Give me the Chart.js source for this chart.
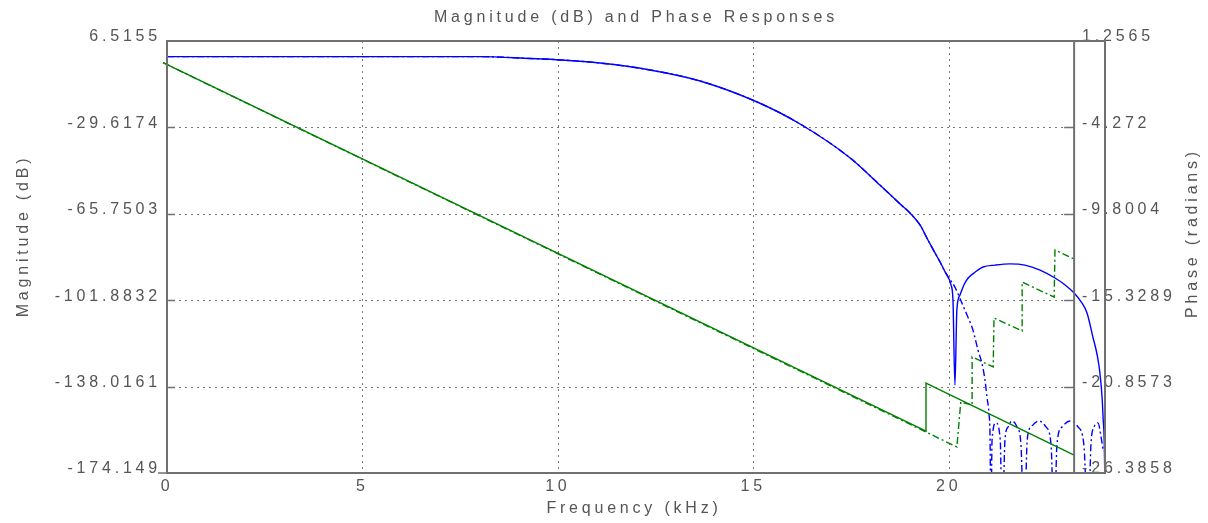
<!DOCTYPE html>
<html><head><meta charset="utf-8">
<script src="https://cdn.jsdelivr.net/npm/chart.js@4.4.1/dist/chart.umd.min.js"></script>
<style>html,body{margin:0;padding:0;background:#fff;overflow:hidden}canvas{display:block}</style>
</head><body>
<canvas id="c" width="1208" height="523"></canvas>
<script>
// ---- data ----
const titleText = 'Magnitude (dB) and Phase Responses';
const xTitle = 'Frequency (kHz)';
const yTitle = 'Magnitude (dB)';
const y1Title = 'Phase (radians)';

const xTicks = [0, 5, 10, 15, 20];
const leftTicks = [-174.149, -138.0161, -101.8832, -65.7503, -29.6174, 6.5155];
const rightTicks = [-26.3858, -20.8573, -15.3289, -9.8004, -4.272, 1.2565];
const xMax = 24;
const phaseAxisEnd = 23.21; // right edge of the phase axes (kHz)

// filter A magnitude (solid blue)
const freqMagA = [0, 8.0, 9.29, 10.08, 11.08, 12.36, 13.64, 15.10, 16.20, 17.48, 18.24, 18.76, 19.01, 19.27, 19.47, 19.65, 19.78, 19.91, 20.06, 20.11, 20.16, 20.21, 20.29, 20.39, 20.50, 20.68, 20.88, 21.19, 21.57, 21.95, 22.34, 22.72, 22.98, 23.21, 23.39, 23.54, 23.69, 23.80, 23.87, 23.93, 23.95, 23.98, 24.0];
const magA = [0, 0, -0.8, -1.4, -2.7, -5.6, -10.2, -19.0, -28.2, -42.4, -53.7, -61.7, -65.4, -70.5, -76.7, -82.1, -85.9, -90.1, -95.5, -101.8, -137.4, -106.0, -99.7, -95.5, -92.6, -90.1, -88.0, -87.2, -86.7, -87.2, -89.3, -92.6, -95.5, -98.9, -102.6, -107.2, -117.3, -124.8, -132.3, -143.6, -150.7, -160.4, -180];

// filter B magnitude (dash-dot blue)
const freqMagB = [0, 8.0, 9.29, 10.08, 11.08, 12.36, 13.64, 15.10, 16.20, 17.48, 18.24, 18.76, 19.01, 19.27, 19.47, 19.65, 19.78, 19.91, 20.04, 20.16, 20.34, 20.47, 20.62, 20.75, 20.85, 20.93, 20.98, 21.03, 21.06, 21.08, 21.11, 21.21, 21.32, 21.37, 21.44, 21.52, 21.62, 21.75, 21.85, 21.93, 22.01, 22.11, 22.31, 22.49, 22.62, 22.70, 22.77, 22.90, 23.11, 23.31, 23.46, 23.57, 23.64, 23.72, 23.82, 23.90, 23.95];
const magB = [0, 0, -0.8, -1.4, -2.7, -5.6, -10.2, -19.0, -28.2, -42.4, -53.7, -61.7, -65.4, -70.5, -76.7, -82.1, -85.9, -90.1, -93.4, -96.4, -103.1, -108.1, -114.3, -122.7, -128.2, -135.3, -142.4, -149.1, -160.4, -200, -160.4, -153.2, -160.4, -200, -160.4, -154.9, -152.4, -154.9, -162.4, -200, -160.4, -154.9, -152.4, -154.9, -162.4, -200, -162.4, -154.9, -152.4, -154.9, -162.4, -200, -162.4, -154.9, -153.2, -159.1, -164.5];

// filter A phase (solid green)
const freqPhaseA = [-0.1, 19.42, 19.42, 23.21];
const phaseA = [-0.13, -23.70, -20.63, -25.24];

// filter B phase (dash-dot green)
const freqPhaseB = [-0.1, 20.21, 20.31, 20.60, 20.60, 21.14, 21.16, 21.88, 21.88, 22.70, 22.72, 23.21];
const phaseB = [-0.13, -24.72, -21.84, -22.04, -18.96, -19.60, -16.47, -17.30, -14.17, -15.13, -12.12, -12.69];

// ---- styling ----
const FONT = '"Liberation Sans", Arial, Helvetica, sans-serif';
const TEXT = '#555555';
const AXIS = '#707070';
const GRID = '#7a7a7a';
const SPACING = '3.8px';
const BLUE = '#0000ff';
const GREEN = '#008000';
const DASHDOT = [7, 3, 2, 3];

function pts(xs, ys) { return xs.map((x, i) => ({ x: x, y: ys[i] })); }

const frame = {
  id: 'frame',
  beforeUpdate(c) { c.ctx.letterSpacing = SPACING; },
  beforeLayout(c) { c.ctx.letterSpacing = SPACING; },
  beforeDraw(c) { c.ctx.letterSpacing = SPACING; },
  beforeDatasetsDraw(c) {
    const { ctx, chartArea: a, scales: { x, y } } = c;
    const ix = x.getPixelForValue(phaseAxisEnd);
    ctx.save();
    ctx.strokeStyle = GRID; ctx.lineWidth = 1; ctx.setLineDash([2, 4]);
    leftTicks.forEach((v, i) => {
      if (i === 0 || i === leftTicks.length - 1) return;
      const py = Math.round(y.getPixelForValue(v)) + 0.5;
      ctx.beginPath(); ctx.moveTo(a.left, py); ctx.lineTo(ix, py); ctx.stroke();
    });
    xTicks.forEach((v, i) => {
      if (i === 0) return;
      const px = Math.round(x.getPixelForValue(v)) + 0.5;
      ctx.beginPath(); ctx.moveTo(px, a.top); ctx.lineTo(px, a.bottom); ctx.stroke();
    });
    ctx.restore();
  },
  afterDraw(c) {
    const { ctx, chartArea: a, scales: { x, y, y1 } } = c;
    const ix = x.getPixelForValue(phaseAxisEnd);
    ctx.save();
    ctx.letterSpacing = SPACING;
    ctx.fillStyle = TEXT;
    ctx.font = '16px ' + FONT;
    // right (phase) tick labels, left-aligned next to the phase axis
    ctx.textAlign = 'left'; ctx.textBaseline = 'middle';
    rightTicks.forEach(v => {
      ctx.fillText(String(v), ix + 8, y1.getPixelForValue(v) - 4);
    });
    ctx.setLineDash([]);
    ctx.strokeStyle = AXIS; ctx.lineWidth = 2;
    ctx.strokeRect(a.left, a.top, a.right - a.left, a.bottom - a.top);
    ctx.beginPath(); ctx.moveTo(ix, a.top); ctx.lineTo(ix, a.bottom); ctx.stroke();
    ctx.lineWidth = 1.5;
    leftTicks.forEach((v, i) => {
      if (i === 0 || i === leftTicks.length - 1) return;
      const py = Math.round(y.getPixelForValue(v)) + 0.5;
      ctx.beginPath(); ctx.moveTo(a.left, py); ctx.lineTo(a.left + 8, py); ctx.stroke();
      ctx.beginPath(); ctx.moveTo(ix - 10, py); ctx.lineTo(ix, py); ctx.stroke();
    });
    ctx.beginPath(); ctx.moveTo(a.left - 9, a.bottom); ctx.lineTo(a.left, a.bottom); ctx.stroke();
    // titles
    ctx.textAlign = 'center'; ctx.textBaseline = 'middle';
    ctx.fillText(titleText, 636, 18);
    ctx.fillText(xTitle, 634, 509);
    ctx.save(); ctx.translate(24, 236); ctx.rotate(-Math.PI / 2); ctx.fillText(yTitle, 0, 0); ctx.restore();
    ctx.save(); ctx.translate(1193, 233); ctx.rotate(-Math.PI / 2); ctx.fillText(y1Title, 0, 0); ctx.restore();
    ctx.restore();
  }
};

const tickFont = { family: FONT, size: 16 };

new Chart(document.getElementById('c'), {
  type: 'line',
  data: {
    datasets: [
      { data: pts(freqMagA, magA), borderColor: BLUE, borderWidth: 1.4, order: 0, yAxisID: 'y', clip: 0, cubicInterpolationMode: 'monotone' },
      { data: pts(freqPhaseA, phaseA), borderColor: GREEN, borderWidth: 1.4, order: 1, yAxisID: 'y1', clip: { left: 6, top: 0, right: 0, bottom: 0 } },
      { data: pts(freqMagB, magB), borderColor: BLUE, borderWidth: 1.4, borderDash: DASHDOT, order: 2, yAxisID: 'y', clip: 0, cubicInterpolationMode: 'monotone' },
      { data: pts(freqPhaseB, phaseB), borderColor: GREEN, borderWidth: 1.4, borderDash: DASHDOT, order: 3, yAxisID: 'y1', clip: { left: 6, top: 0, right: 0, bottom: 0 } }
    ]
  },
  options: {
    responsive: false,
    animation: false,
    events: [],
    elements: { point: { radius: 0 }, line: { tension: 0, fill: false } },
    layout: { padding: { top: 41, left: 0, right: 0, bottom: 0 } },
    plugins: { legend: { display: false }, tooltip: { enabled: false }, title: { display: false } },
    scales: {
      x: {
        type: 'linear', position: 'bottom', min: 0, max: xMax,
        afterFit: s => { s.height = 50; },
        afterBuildTicks: s => { s.ticks = xTicks.map(v => ({ value: v })); },
        grid: { display: false, drawTicks: false },
        border: { display: false },
        ticks: { font: tickFont, color: TEXT, padding: 4, maxRotation: 0, autoSkip: false, callback: v => String(v) }
      },
      y: {
        type: 'linear', position: 'left', min: leftTicks[0], max: leftTicks[leftTicks.length - 1],
        afterFit: s => { s.width = 167; },
        afterBuildTicks: s => { s.ticks = leftTicks.map(v => ({ value: v })); },
        grid: { display: false, drawTicks: false },
        border: { display: false },
        ticks: { font: tickFont, color: TEXT, padding: 6, labelOffset: -4, autoSkip: false, callback: v => String(v) }
      },
      y1: {
        type: 'linear', position: 'right', min: rightTicks[0], max: rightTicks[rightTicks.length - 1],
        afterFit: s => { s.width = 103; },
        afterBuildTicks: s => { s.ticks = rightTicks.map(v => ({ value: v })); },
        grid: { display: false, drawTicks: false },
        border: { display: false },
        ticks: { display: false }
      }
    }
  },
  plugins: [frame]
});
</script>
</body></html>
